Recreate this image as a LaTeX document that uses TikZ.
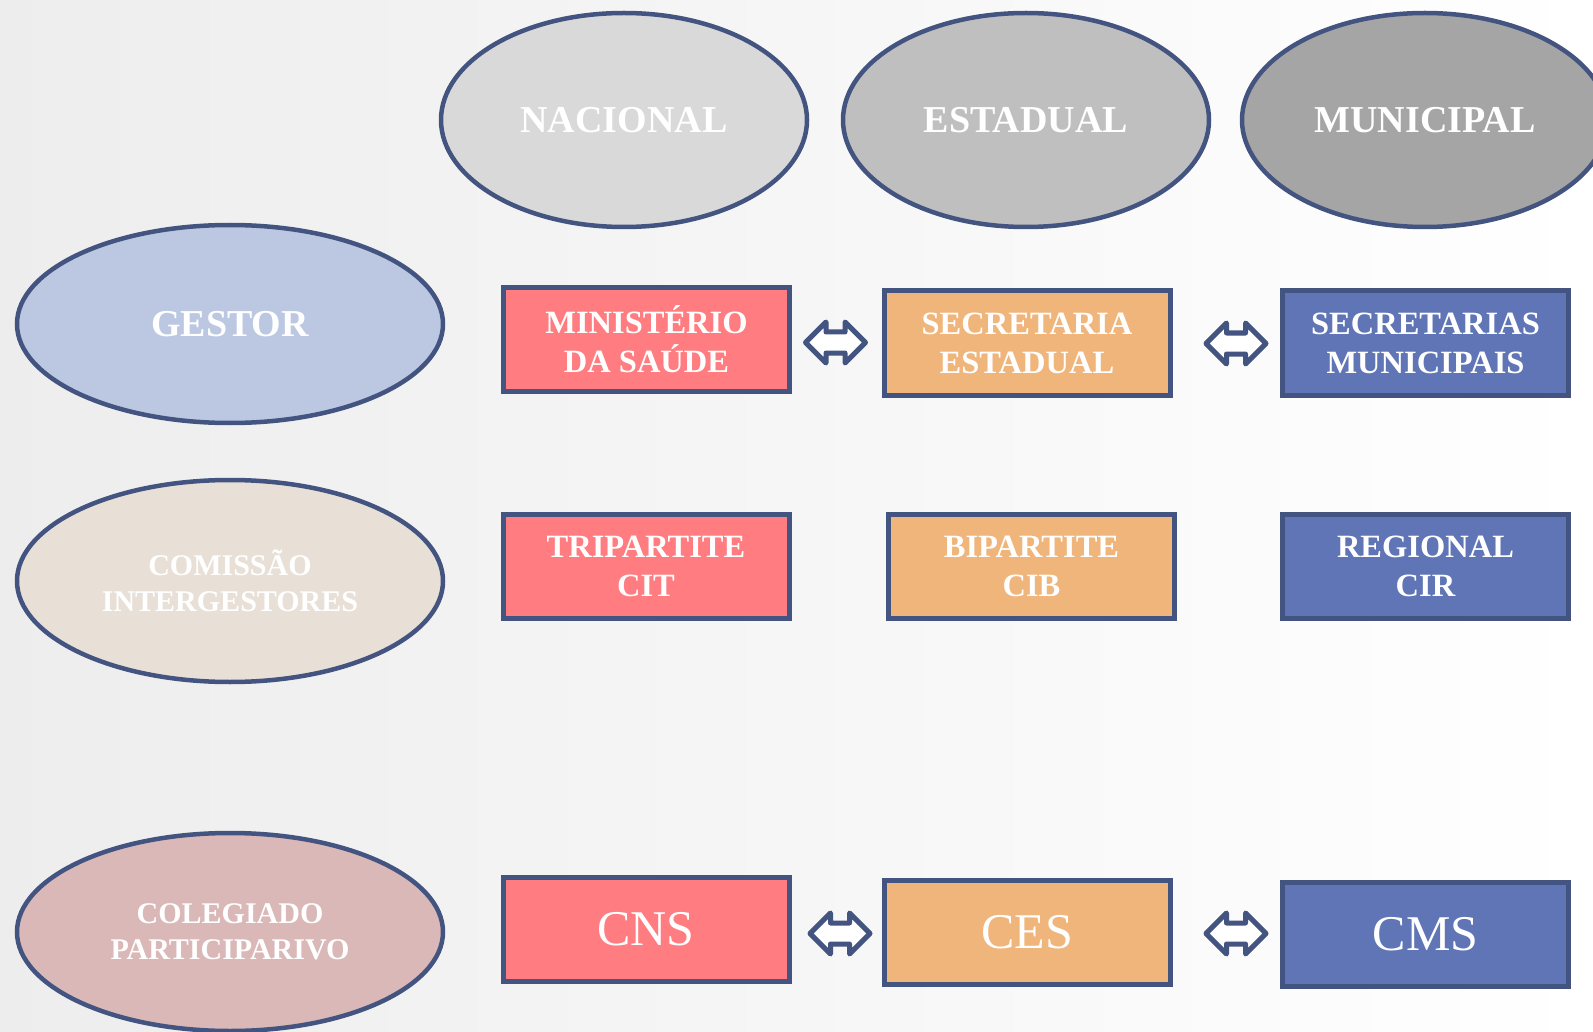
\documentclass[tikz,border=0pt]{standalone}
\usepackage{fontspec}
\setmainfont{Liberation Serif}
\usetikzlibrary{shapes.geometric,shapes.arrows}
\definecolor{bord}{HTML}{445480}
\definecolor{gA}{HTML}{D9D9D9}
\definecolor{gB}{HTML}{BFBFBF}
\definecolor{gC}{HTML}{A5A5A5}
\definecolor{gestorc}{HTML}{BCC8E2}
\definecolor{comc}{HTML}{E8E0D7}
\definecolor{colc}{HTML}{D9B8B7}
\definecolor{redc}{HTML}{FF7C80}
\definecolor{orac}{HTML}{F0B57B}
\definecolor{bluc}{HTML}{6075B5}
\tikzset{
  ell/.style={ellipse, draw=bord, line width=4.5pt, minimum width=366pt, minimum height=214pt, inner sep=0pt, text=white, align=center},
  lell/.style={ellipse, draw=bord, line width=4.5pt, minimum width=426pt, minimum height=198pt, inner sep=0pt, text=white, align=center},
  bigtxt/.style={font=\bfseries\fontsize{38}{44}\selectfont},
  smalltxt/.style={font=\bfseries\fontsize{30}{35.5}\selectfont},
  boxx/.style={rectangle, draw=bord, line width=5pt, minimum width=286pt, minimum height=104pt, inner sep=0pt, text=white, align=center, font=\bfseries\fontsize{32.5}{39}\selectfont},
  abbr/.style={font=\fontsize{50}{54}\selectfont},
  darr/.style={double arrow, draw=bord, fill=white, line width=5pt, line join=round, minimum height=60pt, minimum width=36pt, double arrow head extend=10pt, inner sep=8pt, double arrow tip angle=90}
}
\begin{document}
\begin{tikzpicture}[x=1pt,y=-1pt]
\useasboundingbox (0,0) rectangle (1593,1032);
\shade[left color=black!7, middle color=black!1, right color=white] (0,0) rectangle (1593,1032);
\begin{scope}
\clip (0,0) rectangle (1593,1032);
\node[ell, fill=gA, bigtxt] (nac) at (624,120) {NACIONAL};
\node[ell, fill=gB, bigtxt] (est) at (1026,120) {ESTADUAL};
\node[ell, fill=gC, bigtxt] (mun) at (1425,120) {MUNICIPAL};
\node[lell, fill=gestorc, bigtxt] (ges) at (230,324) {GESTOR};
\node[lell, fill=comc, smalltxt, minimum height=202pt] (com) at (230,581) {COMISSÃO\\INTERGESTORES};
\node[lell, fill=colc, smalltxt] (col) at (230,932) {COLEGIADO\\PARTICIPARIVO};
\end{scope}
\node[boxx, fill=redc] (ms) at (646.5,339.5) {MINISTÉRIO\\DA SAÚDE};
\node[boxx, fill=orac] (se) at (1027,343) {SECRETARIA\\ESTADUAL};
\node[boxx, fill=bluc] (sm) at (1425.5,343) {SECRETARIAS\\MUNICIPAIS};
\node[boxx, fill=redc] (cit) at (646,566) {TRIPARTITE\\CIT};
\node[boxx, fill=orac] (cib) at (1031.5,566) {BIPARTITE\\CIB};
\node[boxx, fill=bluc] (cir) at (1425.5,566) {REGIONAL\\CIR};
\node[boxx, fill=redc, abbr] (cns) at (646,929) {CNS};
\node[boxx, fill=orac, abbr] (ces) at (1027,932) {CES};
\node[boxx, fill=bluc, abbr] (cms) at (1425.5,934) {CMS};
\node[darr] (a1) at (835.5,342.5) {};
\node[darr] (a2) at (1236,343.5) {};
\node[darr] (a3) at (840,933.5) {};
\node[darr] (a4) at (1236,933.5) {};
\end{tikzpicture}
\end{document}
